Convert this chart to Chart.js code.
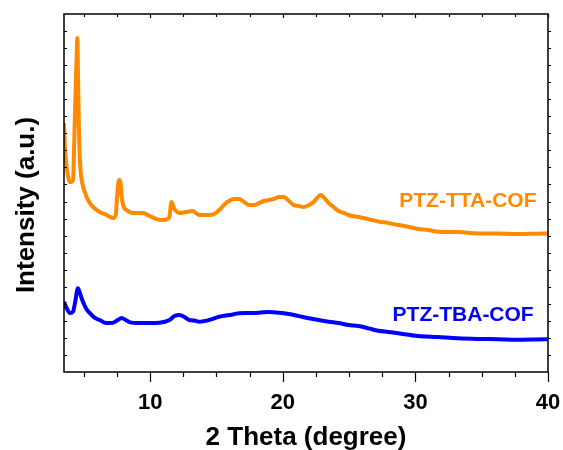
<!DOCTYPE html>
<html>
<head>
<meta charset="utf-8">
<script src="https://cdn.jsdelivr.net/npm/chart.js@4/dist/chart.umd.min.js"></script>
<style>
html,body{margin:0;padding:0;background:#fff;}
#wrap{width:563px;height:450px;position:relative;}
</style>
</head>
<body>
<div id="wrap"><canvas id="c" width="563" height="450"></canvas></div>
<script>
// 2θ positions and intensities (a.u.)
const ttaTheta = [3.5,3.58,3.73,3.95,4.18,4.25,4.35,4.46,4.5,4.55,4.63,4.7,4.8,4.95,5.21,5.45,5.7,6.2,6.71,7.2,7.4,7.5,7.65,7.76,7.85,8.0,8.21,8.7,9.45,9.95,10.5,10.93,11.3,11.46,11.6,11.83,12.2,12.66,13.18,13.7,14.45,14.83,15.2,15.8,16.33,16.7,17.08,17.46,17.83,18.2,18.58,18.96,19.33,19.71,20.08,20.46,20.83,21.2,21.58,21.96,22.33,22.63,22.86,23.08,23.46,23.83,24.2,24.58,24.96,25.71,26.46,27.2,27.96,28.7,29.46,30.2,30.96,31.7,33.2,34.7,36.2,37.7,39.8,40];
const ttaIntensity = [1460,1302,1185,1114,1126,1284,1578,1871,1959,1771,1419,1243,1144,1085,1026,991,968,938,921,903,921,1026,1126,1114,1026,968,950,933,933,915,897,891,897,915,997,956,933,938,944,921,921,927,950,997,1015,1015,997,979,979,991,1003,1009,1015,1026,1026,1003,979,974,968,979,997,1026,1038,1026,991,968,944,933,921,909,897,883,874,862,852,839,833,823,821,813,812,809,812,812];
const tbaTheta = [3.5,3.65,3.95,4.18,4.33,4.55,4.7,4.93,5.23,5.45,5.83,6.2,6.58,6.95,7.33,7.55,7.85,8.15,8.45,9.2,9.95,10.7,11.46,11.83,12.2,12.58,12.95,13.33,13.7,14.45,15.2,15.96,16.7,17.46,18.2,18.96,19.71,20.46,21.2,21.96,22.7,23.46,24.2,24.96,25.7,26.46,27.2,27.96,28.7,30.2,31.7,33.2,34.7,36.2,37.7,39.8,40];
const tbaIntensity = [412,383,346,354,405,491,463,412,364,346,317,305,289,287,293,305,317,305,293,287,287,289,305,328,334,323,305,302,295,305,324,334,344,346,348,352,348,340,328,315,305,295,287,276,270,256,242,235,227,211,205,198,194,192,189,192,192];
const xTickLabels = [10,20,30,40];
const seriesNames = ['PTZ-TTA-COF','PTZ-TBA-COF'];
const seriesColors = ['#FF8A00','#0000FF'];

const FONT = "'Liberation Sans', Arial, Helvetica, sans-serif";
const toPts = (xs, ys) => xs.map((x, i) => ({x: x, y: ys[i]}));

const framePlugin = {
  id: 'frame',
  afterDatasetsDraw(chart) {
    const {ctx, chartArea: a, scales: {x, y}} = chart;
    ctx.save();
    ctx.strokeStyle = '#000';
    ctx.lineWidth = 1.5;
    ctx.strokeRect(a.left, a.top, a.right - a.left, a.bottom - a.top);
    ctx.lineWidth = 1.2;
    ctx.beginPath();
    for (let v = 5; v <= 40; v += 2.5) {
      const px = Math.round(x.getPixelForValue(v)) + 0.5;
      const major = v % 10 === 0;
      ctx.moveTo(px, a.bottom); ctx.lineTo(px, a.bottom + (major ? 10 : 5));
      ctx.moveTo(px, a.top); ctx.lineTo(px, a.top + (major ? 4 : 3));
    }
    for (let v = y.min + 100; v < y.max; v += 100) {
      const py = Math.round(y.getPixelForValue(v)) + 0.5;
      ctx.moveTo(a.left, py); ctx.lineTo(a.left + 3, py);
      ctx.moveTo(a.right, py); ctx.lineTo(a.right + 3, py);
    }
    ctx.stroke();
    // series labels
    ctx.font = 'bold 21px ' + FONT;
    ctx.textAlign = 'center';
    ctx.textBaseline = 'middle';
    ctx.fillStyle = seriesColors[0];
    ctx.fillText(seriesNames[0], x.getPixelForValue(33.96), y.getPixelForValue(1003));
    ctx.fillStyle = seriesColors[1];
    ctx.fillText(seriesNames[1], x.getPixelForValue(33.6), y.getPixelForValue(334));
    // y title
    ctx.fillStyle = '#000';
    ctx.font = 'bold 26px ' + FONT;
    ctx.translate(27, 205);
    ctx.rotate(-Math.PI / 2);
    ctx.fillText('Intensity (a.u.)', 0, 0);
    ctx.restore();
  }
};

new Chart(document.getElementById('c'), {
  type: 'line',
  data: {
    datasets: [
      {label: seriesNames[0], data: toPts(ttaTheta, ttaIntensity), borderColor: seriesColors[0], borderWidth: 4, pointRadius: 0, cubicInterpolationMode: 'monotone', fill: false},
      {label: seriesNames[1], data: toPts(tbaTheta, tbaIntensity), borderColor: seriesColors[1], borderWidth: 4, pointRadius: 0, cubicInterpolationMode: 'monotone', fill: false}
    ]
  },
  options: {
    responsive: false,
    animation: false,
    devicePixelRatio: 1,
    layout: {padding: {left: 0, right: 15, top: 14, bottom: 0}},
    plugins: {legend: {display: false}, tooltip: {enabled: false}},
    scales: {
      x: {
        type: 'linear', min: 3.5, max: 40,
        afterBuildTicks: s => { s.ticks = xTickLabels.map(v => ({value: v})); },
        afterFit: s => { s.height = 78; s.paddingLeft = 0; s.paddingRight = 0; },
        ticks: {autoSkip: false, maxRotation: 0, padding: 18, color: '#000', font: {family: FONT, size: 22, weight: 'bold'}},
        grid: {drawOnChartArea: false, drawTicks: false},
        border: {display: false},
        title: {display: true, text: '2 Theta (degree)', color: '#000', font: {family: FONT, size: 26, weight: 'bold', lineHeight: 0.9}, padding: {top: 0, bottom: 0}}
      },
      y: {
        type: 'linear', min: 0, max: 2100,
        afterBuildTicks: s => { const t = []; for (let v = 0; v <= 2100; v += 100) t.push({value: v}); s.ticks = t; },
        afterFit: s => { s.width = 64; s.paddingTop = 0; s.paddingBottom = 0; },
        ticks: {display: false},
        grid: {drawOnChartArea: false, drawTicks: false},
        border: {display: false}
      }
    }
  },
  plugins: [framePlugin]
});
</script>
</body>
</html>
